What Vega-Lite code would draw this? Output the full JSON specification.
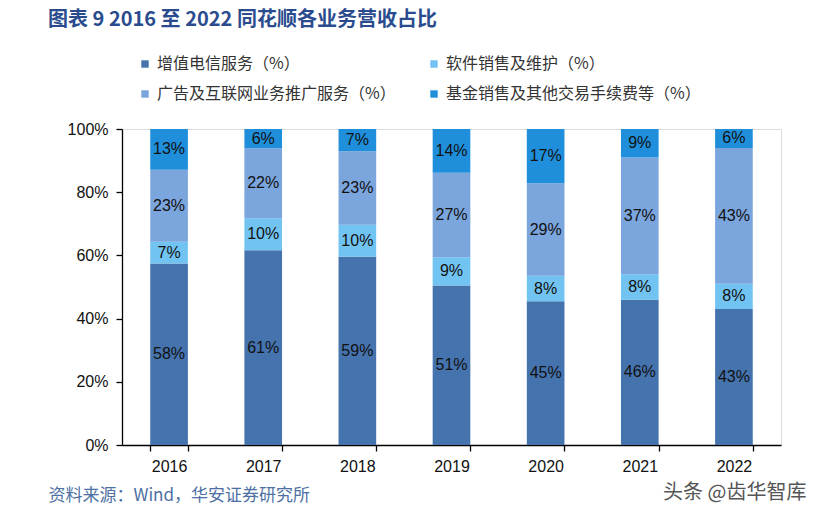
{
  "$schema": "https://vega.github.io/schema/vega-lite/v6.json",
  "width": 659,
  "height": 316,
  "autosize": {"type": "none"},
  "padding": {"left": 122, "top": 129, "right": 33, "bottom": 68},
  "background": "white",
  "title": {
    "text": "图表 9 2016 至 2022 同花顺各业务营收占比",
    "anchor": "start",
    "frame": "group",
    "dx": -74,
    "offset": 26,
    "font": "Noto Sans CJK SC",
    "fontSize": 20,
    "fontWeight": "bold",
    "color": "#2A4C8E"
  },
  "data": {
    "values": [
      {"year": "2016", "s": "增值电信服务（%）", "k": 1, "v": 58},
      {"year": "2016", "s": "软件销售及维护（%）", "k": 2, "v": 7},
      {"year": "2016", "s": "广告及互联网业务推广服务（%）", "k": 3, "v": 23},
      {"year": "2016", "s": "基金销售及其他交易手续费等（%）", "k": 4, "v": 13},
      {"year": "2017", "s": "增值电信服务（%）", "k": 1, "v": 61},
      {"year": "2017", "s": "软件销售及维护（%）", "k": 2, "v": 10},
      {"year": "2017", "s": "广告及互联网业务推广服务（%）", "k": 3, "v": 22},
      {"year": "2017", "s": "基金销售及其他交易手续费等（%）", "k": 4, "v": 6},
      {"year": "2018", "s": "增值电信服务（%）", "k": 1, "v": 59},
      {"year": "2018", "s": "软件销售及维护（%）", "k": 2, "v": 10},
      {"year": "2018", "s": "广告及互联网业务推广服务（%）", "k": 3, "v": 23},
      {"year": "2018", "s": "基金销售及其他交易手续费等（%）", "k": 4, "v": 7},
      {"year": "2019", "s": "增值电信服务（%）", "k": 1, "v": 51},
      {"year": "2019", "s": "软件销售及维护（%）", "k": 2, "v": 9},
      {"year": "2019", "s": "广告及互联网业务推广服务（%）", "k": 3, "v": 27},
      {"year": "2019", "s": "基金销售及其他交易手续费等（%）", "k": 4, "v": 14},
      {"year": "2020", "s": "增值电信服务（%）", "k": 1, "v": 45},
      {"year": "2020", "s": "软件销售及维护（%）", "k": 2, "v": 8},
      {"year": "2020", "s": "广告及互联网业务推广服务（%）", "k": 3, "v": 29},
      {"year": "2020", "s": "基金销售及其他交易手续费等（%）", "k": 4, "v": 17},
      {"year": "2021", "s": "增值电信服务（%）", "k": 1, "v": 46},
      {"year": "2021", "s": "软件销售及维护（%）", "k": 2, "v": 8},
      {"year": "2021", "s": "广告及互联网业务推广服务（%）", "k": 3, "v": 37},
      {"year": "2021", "s": "基金销售及其他交易手续费等（%）", "k": 4, "v": 9},
      {"year": "2022", "s": "增值电信服务（%）", "k": 1, "v": 43},
      {"year": "2022", "s": "软件销售及维护（%）", "k": 2, "v": 8},
      {"year": "2022", "s": "广告及互联网业务推广服务（%）", "k": 3, "v": 43},
      {"year": "2022", "s": "基金销售及其他交易手续费等（%）", "k": 4, "v": 6}
    ]
  },
  "transform": [
    {"stack": "v", "groupby": ["year"], "sort": [{"field": "k", "order": "ascending"}], "offset": "normalize", "as": ["y0", "y1"]},
    {"calculate": "(datum.y0 + datum.y1) / 2", "as": "ym"},
    {"calculate": "datum.v + '%'", "as": "lab"}
  ],
  "encoding": {
    "x": {
      "field": "year",
      "type": "ordinal",
      "scale": {"paddingInner": 0.6, "paddingOuter": 0.3},
      "axis": {
        "labelAngle": 0,
        "labelFont": "Liberation Sans",
        "labelFontSize": 16,
        "labelColor": "#111",
        "labelPadding": 7,
        "tickBand": "extent",
        "tickSize": 6,
        "tickColor": "#000",
        "domainColor": "#000",
        "domainWidth": 1.3,
        "tickWidth": 1.3,
        "title": "资料来源：Wind，华安证券研究所",
        "titleFont": "Noto Sans CJK SC",
        "titleFontSize": 17,
        "titleFontWeight": "normal",
        "titleColor": "#4D6FA3",
        "titleAnchor": "start",
        "titleAlign": "left",
        "titleBaseline": "middle",
        "titleX": -74,
        "titleY": 50
      }
    }
  },
  "layer": [
    {
      "mark": {"type": "bar"},
      "encoding": {
        "y": {
          "field": "y0",
          "type": "quantitative",
          "scale": {"domain": [0, 1]},
          "axis": {
            "format": ".0%",
            "values": [0, 0.2, 0.4, 0.6, 0.8, 1],
            "grid": false,
            "labelFont": "Liberation Sans",
            "labelFontSize": 16,
            "labelColor": "#111",
            "labelPadding": 8,
            "tickSize": 6,
            "tickColor": "#000",
            "domainColor": "#000",
            "domainWidth": 1.3,
            "tickWidth": 1.3,
            "title": "头条 @齿华智库",
            "titleAngle": 0,
            "titleFont": "Noto Sans CJK SC",
            "titleFontSize": 20,
            "titleFontWeight": "normal",
            "titleColor": "#555",
            "titleAlign": "right",
            "titleBaseline": "middle",
            "titleX": 684,
            "titleY": 363
          }
        },
        "y2": {"field": "y1"},
        "color": {
          "field": "s",
          "type": "nominal",
          "scale": {
            "domain": ["增值电信服务（%）", "广告及互联网业务推广服务（%）", "软件销售及维护（%）", "基金销售及其他交易手续费等（%）"],
            "range": ["#4573AE", "#7BA5DD", "#71C3F2", "#1F8FDB"]
          },
          "legend": {
            "title": null,
            "orient": "none",
            "legendX": 15,
            "legendY": -73,
            "columns": 2,
            "columnPadding": 30,
            "rowPadding": 14,
            "symbolType": "square",
            "symbolSize": 55,
            "symbolStrokeWidth": 0,
            "labelFont": "Noto Sans CJK SC",
            "labelFontSize": 16,
            "labelColor": "#333",
            "labelOffset": 4,
            "labelLimit": 400
          }
        }
      }
    },
    {
      "mark": {"type": "text", "font": "Liberation Sans", "fontSize": 16, "color": "#111", "baseline": "middle"},
      "encoding": {
        "y": {"field": "ym", "type": "quantitative"},
        "text": {"field": "lab"}
      }
    }
  ]
}
